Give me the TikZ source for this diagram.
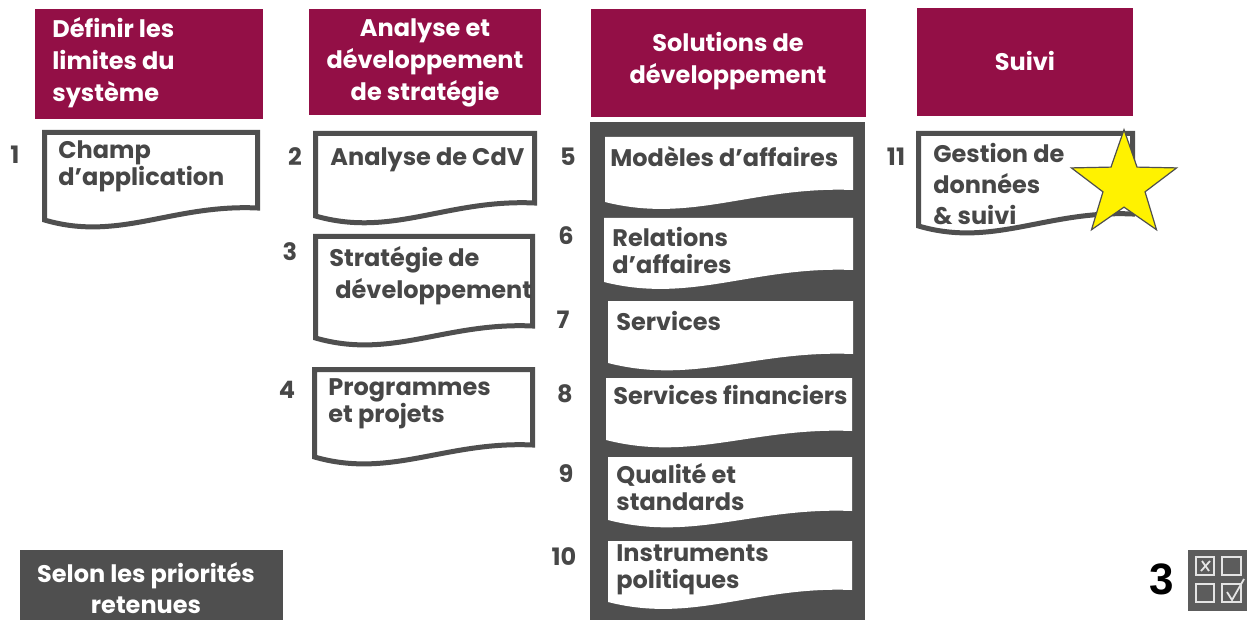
\documentclass[tikz,border=0pt]{standalone}
\usepackage{fontspec}
\setmainfont{Poppins}
\newfontfamily\digitfont{Liberation Sans}
\usetikzlibrary{shapes.geometric}
\definecolor{bordeaux}{HTML}{930F46}
\definecolor{slate}{HTML}{4F4F4F}
\definecolor{inkgray}{HTML}{474747}
\definecolor{iconbg}{HTML}{5C5C5C}
\definecolor{iconline}{HTML}{E4E4E4}
% page with a wavy bottom: style, left, top, right, bottom left, bottom right
\newcommand\wavypage[6]{%
  \pgfmathsetmacro\pw{#4-#2}%
  \path[#1] (#2,#3) -- (#4,#3) -- (#4,#6)
    .. controls ({#4-0.4*\pw},#6-4) and ({#2+0.35*\pw},#5+22) .. (#2,#5) -- cycle;}
\begin{document}
\begin{tikzpicture}[x=0.5pt,y=-0.5pt,
    head/.style={fill=bordeaux},
    headtext/.style={text=white,font=\bfseries\fontsize{12}{16}\selectfont,align=center,inner sep=0pt},
    page/.style={draw=slate,line width=2.5pt,fill=white},
    blank/.style={fill=white},
    label/.style={text=inkgray,font=\bfseries\fontsize{12}{13.5}\selectfont,align=left,anchor=west,inner sep=0pt},
    num/.style={text=inkgray,font=\bfseries\fontsize{12}{13.5}\selectfont,inner sep=0pt}]
  \useasboundingbox (0,0) rectangle (1247,620);

  % headers
  \fill[head] (35,9) rectangle (263,119);
  \fill[head] (309,9) rectangle (541,115);
  \fill[head] (591,9) rectangle (866,117);
  \fill[head] (917,8) rectangle (1133,116);
  \node[headtext,align=left,anchor=west] (limits) at (52,63) {Définir les\\limites du\\système};
  \node[headtext] (analysis) at (425,63) {Analyse et\\développement\\de stratégie};
  \node[headtext] (solutions) at (728,61) {Solutions de\\développement};
  \node[headtext] (followup) at (1025,61) {Suivi};

  % column 1
  \wavypage{page}{44.5}{132.5}{257.5}{220}{208}
  \node[num] (n1) at (15,155) {1};
  \node[label] (scope) at (58,166) {Champ\\d’application};

  % column 2
  \wavypage{page}{315.5}{133.5}{534.5}{216}{203}
  \wavypage{page}{315.5}{236.5}{532.5}{338}{326}
  \wavypage{page}{314.5}{369.5}{532.5}{457}{445}
  \node[num] (n2) at (295,157) {2};
  \node[num] (n3) at (290,252) {3};
  \node[num] (n4) at (287,390) {4};
  \node[label] (cdv) at (330,160) {Analyse de CdV};
  \node[label,font=\bfseries\fontsize{12}{16}\selectfont] (strategy) at (329,276) {Stratégie de\\\hspace*{3pt}développement};
  \node[label] (programs) at (328,404) {Programmes\\et projets};

  % column 3
  \fill[slate] (590,122) rectangle (865,620);
  \wavypage{blank}{605}{137}{853}{202}{190}
  \wavypage{blank}{604}{218}{853}{282}{270}
  \wavypage{blank}{608}{301}{853}{363}{354}
  \wavypage{blank}{606}{378}{852}{440}{431}
  \wavypage{blank}{608}{457}{852}{520}{511}
  \wavypage{blank}{608}{541}{852}{602}{590}
  \node[num] (n5) at (568,157) {5};
  \node[num] (n6) at (566,236) {6};
  \node[num] (n7) at (563,320) {7};
  \node[num] (n8) at (565,394) {8};
  \node[num] (n9) at (566,474) {9};
  \node[num] (n10) at (564,557) {10};
  \node[label] (models) at (610,157) {Modèles d’affaires};
  \node[label] (relations) at (612,250) {Relations\\d’affaires};
  \node[label] (services) at (616,321) {Services};
  \node[label] (finance) at (613,395) {Services financiers};
  \node[label] (quality) at (616,487) {Qualité et\\standards};
  \node[label] (instruments) at (616,570) {Instruments\\politiques};

  % column 4
  \wavypage{page}{918.5}{133.5}{1132.5}{226}{214}
  \node[num] (n11) at (896,157) {11};
  \node[label,font=\bfseries\fontsize{12}{15.5}\selectfont] (data) at (933,184) {Gestion de\\données\\\& suivi};
  \node[star,star points=5,star point ratio=2.5,minimum size=55.3pt,inner sep=0pt,
    fill=yellow,draw=slate,line width=0.6pt] (star) at (1124,185) {};

  % footer
  \fill[slate] (20,550) rectangle (283,620);
  \node[headtext,font=\bfseries\fontsize{12}{15.5}\selectfont] (priorities) at (146,588) {Selon les priorités\\retenues};
  \node[font=\digitfont\bfseries\fontsize{22}{22}\selectfont,inner sep=0pt] (pagenum) at (1162,579) {3};
  \fill[iconbg] (1188,550) rectangle (1247,611);
  \begin{scope}[draw=iconline,line width=0.9pt]
    \draw (1196,557) rectangle (1214,575);
    \draw (1222,557) rectangle (1241,575);
    \draw (1196,584) rectangle (1214,602);
    \draw (1222,584) rectangle (1241,602);
    \draw (1202,561) -- (1209,571);
    \draw (1210,561) -- (1201,571);
    \draw (1227,592) -- (1232,600) -- (1244,579);
  \end{scope}
\end{tikzpicture}
\end{document}
